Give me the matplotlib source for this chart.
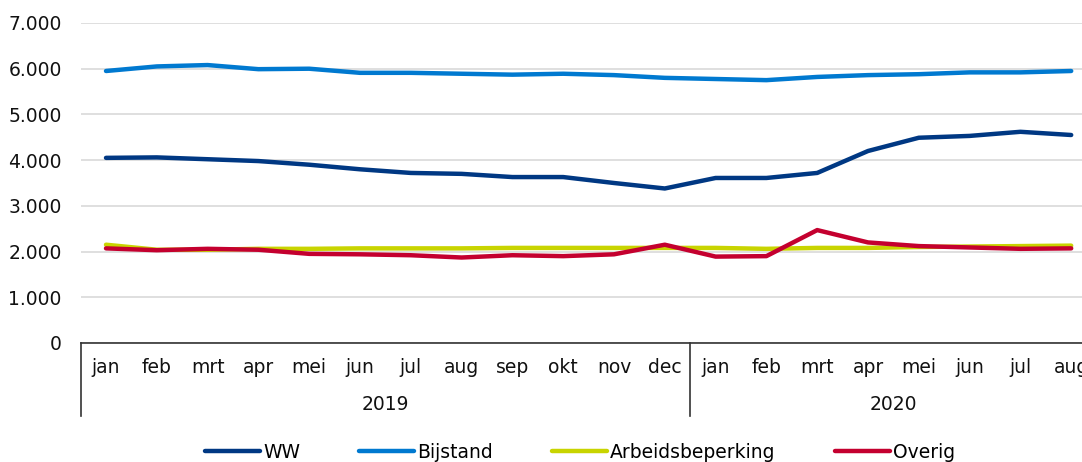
import numpy as np
import matplotlib.pyplot as plt
from matplotlib.ticker import FuncFormatter
import matplotlib.transforms as mtransforms

maanden = ['jan', 'feb', 'mrt', 'apr', 'mei', 'jun', 'jul', 'aug', 'sep', 'okt', 'nov', 'dec',
           'jan', 'feb', 'mrt', 'apr', 'mei', 'jun', 'jul', 'aug']
jaren = ['2019', '2020']
maanden_per_jaar = [12, 8]

ww = [4050, 4060, 4020, 3980, 3900, 3800, 3720, 3700, 3630, 3630, 3500, 3380,
      3610, 3610, 3720, 4200, 4490, 4530, 4620, 4550]
bijstand = [5950, 6050, 6080, 5990, 6000, 5910, 5910, 5890, 5870, 5890, 5860, 5800,
            5775, 5750, 5820, 5860, 5880, 5920, 5920, 5950]
arbeidsbeperking = [2150, 2040, 2040, 2060, 2060, 2070, 2070, 2070, 2080, 2080, 2080, 2080,
                    2080, 2060, 2080, 2080, 2100, 2110, 2120, 2130]
overig = [2070, 2030, 2060, 2040, 1950, 1940, 1920, 1870, 1920, 1900, 1940, 2150,
          1890, 1900, 2470, 2200, 2120, 2090, 2060, 2070]

series = [
    ('WW', ww, '#003883'),
    ('Bijstand', bijstand, '#0079d0'),
    ('Arbeidsbeperking', arbeidsbeperking, '#c8d400'),
    ('Overig', overig, '#c4002f'),
]

plt.rcParams['font.family'] = 'DejaVu Sans'
fs = 13.5

fig = plt.figure(figsize=(10.82, 4.62), dpi=100)
W, H = 1082, 462
# plot area runs past the right edge, like in the original (clipped)
ax = fig.add_axes([80.6 / W, 119 / H, 1016 / W, 320 / H])

x = np.arange(len(maanden))
# draw yellow first so red sits on top
order = [1, 0, 2, 3]
for i in order:
    naam, vals, kleur = series[i]
    ax.plot(x, vals, color=kleur, lw=3.2, solid_capstyle='round', label=naam, zorder=3 + i)

ax.set_xlim(-0.5, len(maanden) - 0.5)
ax.set_ylim(0, 7000)
ax.set_yticks(range(0, 7001, 1000))
ax.yaxis.set_major_formatter(FuncFormatter(lambda v, p: f'{int(v):,}'.replace(',', '.')))
ax.grid(axis='y', color='#d9d9d9', lw=1.2)
ax.set_axisbelow(True)

for s in ['top', 'right', 'left']:
    ax.spines[s].set_visible(False)
ax.spines['bottom'].set_color('#333333')
ax.spines['bottom'].set_linewidth(1.2)

ax.set_xticks(x)
ax.set_xticklabels(maanden, fontsize=fs, color='#111111')
ax.tick_params(axis='x', length=0, pad=11)
ax.tick_params(axis='y', length=0, pad=13.5, labelsize=fs, colors='#111111')

# second level of the axis: years with separator lines
trans = mtransforms.blended_transform_factory(ax.transData, ax.transAxes)
onder = -73 / 320
start = -0.5
grenzen = [start]
for jaar, n in zip(jaren, maanden_per_jaar):
    midden = start + n / 2
    ax.text(midden, -62 / 320, jaar, transform=trans, ha='center', va='center',
            fontsize=fs, color='#111111')
    start += n
    grenzen.append(start)
for g in grenzen[:-1]:
    ax.plot([g, g], [0, onder], transform=trans, color='#333333', lw=1.2, clip_on=False)

handles, labels = ax.get_legend_handles_labels()
volgorde = [labels.index(s[0]) for s in series]
fig.legend([handles[i] for i in volgorde], [labels[i] for i in volgorde],
           loc='center', bbox_to_anchor=(580 / W, 1 - 452 / H), ncol=4, frameon=False,
           fontsize=fs, handlelength=2.95, handletextpad=0.15, columnspacing=3.15)

fig.savefig('out.png', dpi=100)
